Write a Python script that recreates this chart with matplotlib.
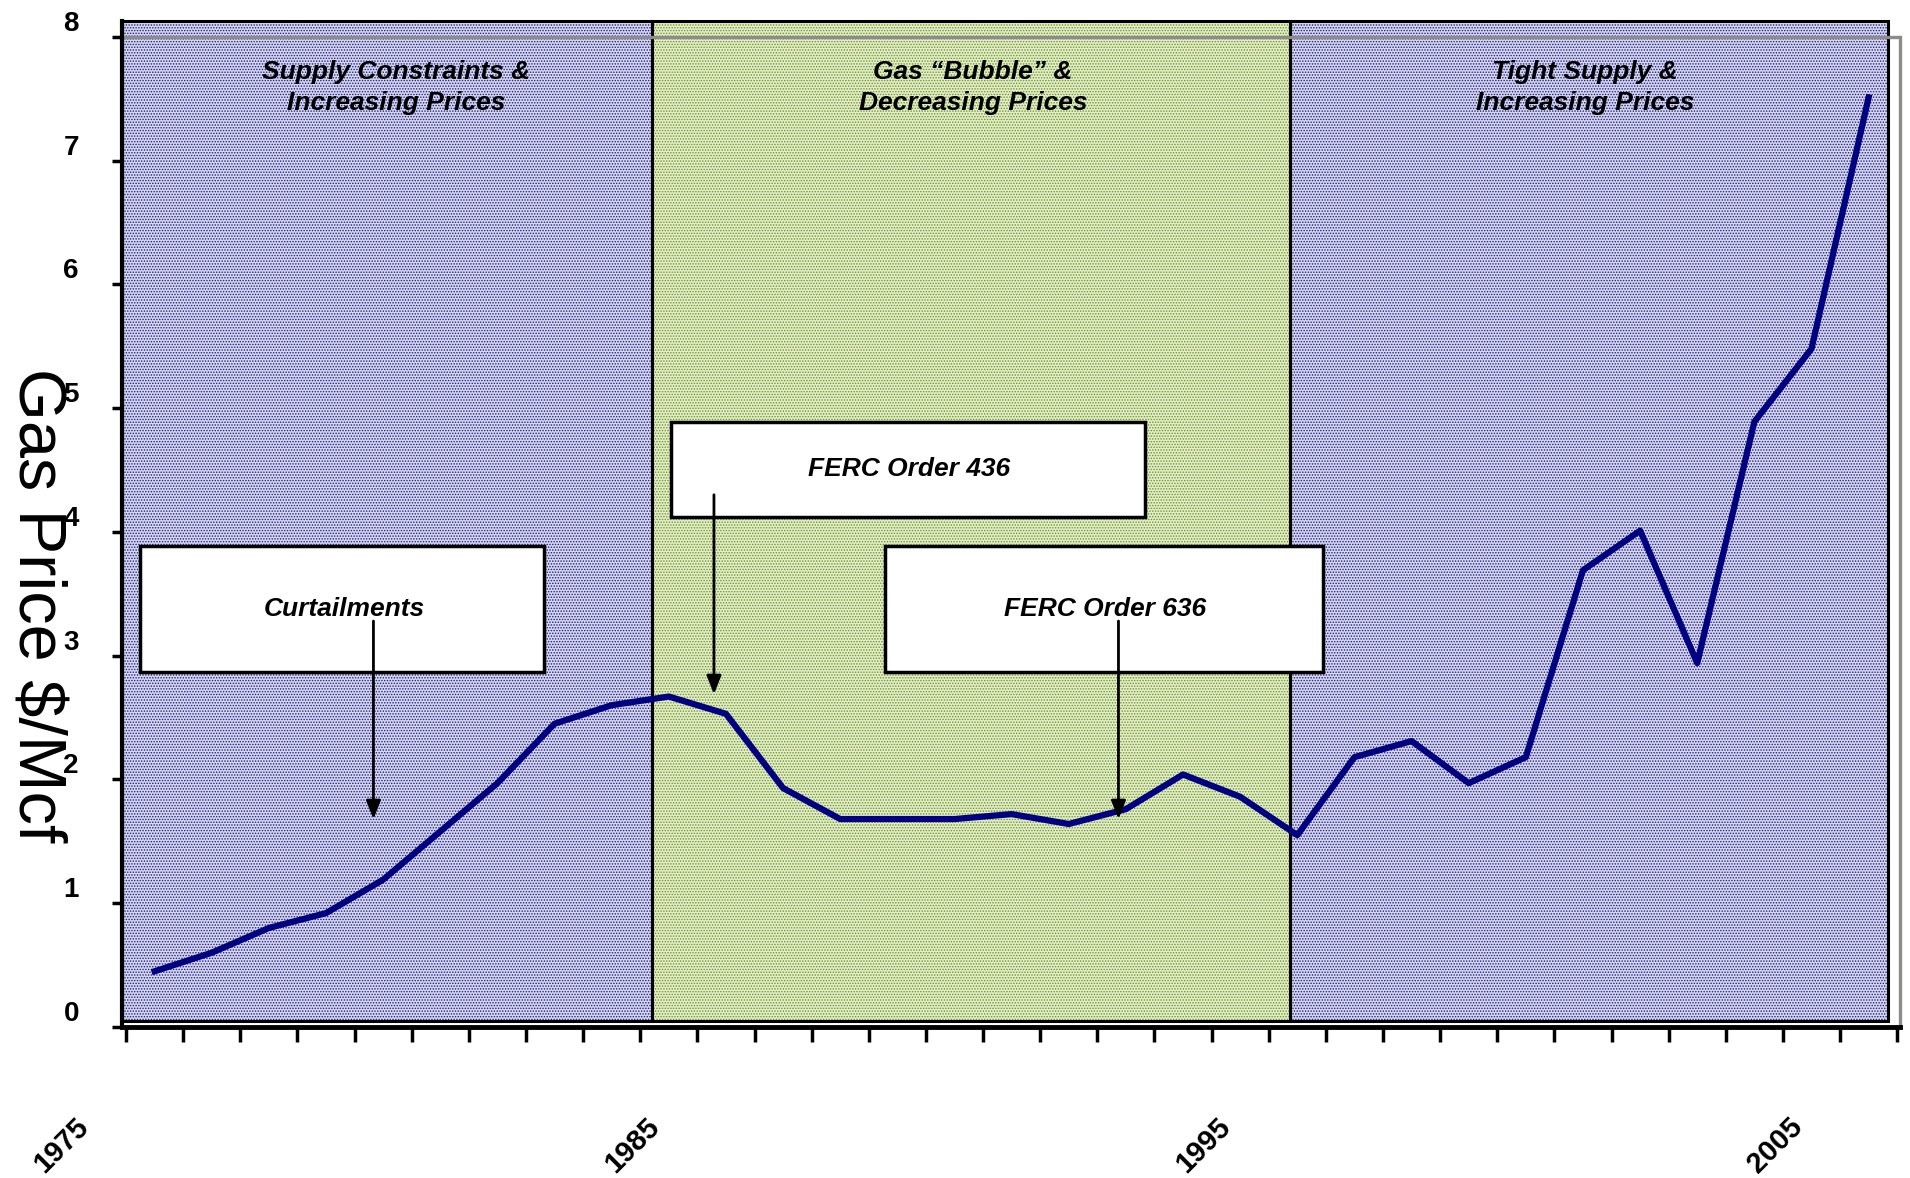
import numpy as np
import matplotlib
matplotlib.use("Agg")
import matplotlib.pyplot as plt
from matplotlib.patches import Rectangle
from matplotlib.transforms import ScaledTranslation, blended_transform_factory

plt.rcParams['font.family'] = ['Liberation Sans', 'DejaVu Sans']
plt.rcParams['hatch.linewidth'] = 0.7

# wellhead gas price, $/Mcf
years = list(range(1976, 2007))
price = [0.45, 0.60, 0.80, 0.92, 1.19, 1.58, 1.97, 2.45, 2.60, 2.67,
         2.53, 1.93, 1.68, 1.68, 1.68, 1.72, 1.64, 1.76, 2.04, 1.86,
         1.55, 2.18, 2.31, 1.97, 2.18, 3.69, 4.01, 2.94, 4.89, 5.48, 7.51]

decade_labels = ['1975', '1985', '1995', '2005']
y_ticks = [0, 1, 2, 3, 4, 5, 6, 7, 8]

# market eras behind the price line
era_bounds = [1975.43, 1984.70, 1995.87, 2006.34]
era_titles = ['Supply Constraints &\nIncreasing Prices',
              'Gas \u201cBubble\u201d &\nDecreasing Prices',
              'Tight Supply &\nIncreasing Prices']
era_face = ['#d6d6ed', '#e4ecca', '#d6d6ed']
era_dots = ['#1e1e86', '#6a9626', '#1e1e86']

fig = plt.figure(figsize=(19.1, 11.78), dpi=100)
ax = fig.add_axes([0.0639, 0.1282, 0.9309, 0.8542])
ax.set_xlim(1975.43, 2006.55)
ax.set_ylim(0, 8.13)

# shaded eras
for i in range(3):
    x0, x1 = era_bounds[i], era_bounds[i + 1]
    ax.add_patch(Rectangle((x0, 0.05), x1 - x0, 8.08, facecolor=era_face[i],
                           edgecolor=era_dots[i], hatch='......', lw=0,
                           zorder=0, clip_on=False))
    ax.add_patch(Rectangle((x0, 0.05), x1 - x0, 8.08, fill=False,
                           edgecolor='black', lw=2.2, zorder=1, clip_on=False))
    xc = {0: 1980.23, 1: 1990.32, 2: 2001.04}[i]
    ax.text(xc, 7.59, era_titles[i], ha='center', va='center', fontsize=19,
            fontweight='bold', fontstyle='italic', linespacing=1.35, zorder=6)

# gray plot-area frame
ax.axhline(8, color='#8c8c8c', lw=2.4, zorder=1.5)
ax.spines['top'].set_visible(False)
ax.spines['right'].set_color('#8c8c8c')
ax.spines['right'].set_linewidth(2.4)
ax.spines['right'].set_bounds(0, 8)
ax.spines['left'].set_linewidth(3)
ax.spines['bottom'].set_linewidth(3.5)
ax.spines['left'].set_zorder(3)
ax.spines['bottom'].set_zorder(3)

ax.plot(years, price, color='#000080', lw=4.5, zorder=4)

# callout boxes with arrows
notes = [
    ('Curtailments', (1975.74, 2.87, 7.07, 1.02), (1979.32, 3.38), (1979.83, 3.28, 1.68)),
    ('FERC Order 436', (1985.04, 4.12, 8.30, 0.77), (1989.21, 4.51), (1985.79, 4.30, 2.69)),
    ('FERC Order 636', (1988.79, 2.87, 7.66, 1.02), (1992.64, 3.38), (1992.87, 3.28, 1.68)),
]
for label, box, txt, arr in notes:
    ax.add_patch(Rectangle((box[0], box[1]), box[2], box[3], facecolor='white',
                           edgecolor='black', lw=2.5, zorder=5))
    ax.text(txt[0], txt[1], label, ha='center', va='center', fontsize=19,
            fontweight='bold', fontstyle='italic', zorder=6)
    ax.annotate('', xy=(arr[0], arr[2]), xytext=(arr[0], arr[1]),
                arrowprops=dict(arrowstyle='-|>,head_length=0.55,head_width=0.22',
                                color='black', lw=2, mutation_scale=20,
                                shrinkA=0, shrinkB=0), zorder=7)

# y axis
ax.set_yticks(y_ticks)
ax.set_yticklabels([str(v) for v in y_ticks], fontsize=20, fontweight='bold')
ax.tick_params(axis='y', length=7, width=2.5, pad=24)
for lab in ax.get_yticklabels():
    lab.set_transform(lab.get_transform() + ScaledTranslation(0, 0.16, fig.dpi_scale_trans))

# x axis: one tick per year boundary, decade labels set well below
ax.set_xticks([])
ax.set_xticks(np.arange(1975.5, 2007, 1), minor=True)
ax.tick_params(axis='x', which='minor', length=11, width=2.5)
trans = blended_transform_factory(ax.transData, fig.transFigure)
for lab in decade_labels:
    ax.text(int(lab) - 0.64, 0.028, lab, transform=trans, rotation=45,
            ha='center', va='center', fontsize=21, fontweight='bold')

fig.text(0.0185, 0.4864, 'Gas Price $/Mcf', rotation=-90, ha='center',
         va='center', fontsize=48)

fig.savefig('out.png', dpi=100)
